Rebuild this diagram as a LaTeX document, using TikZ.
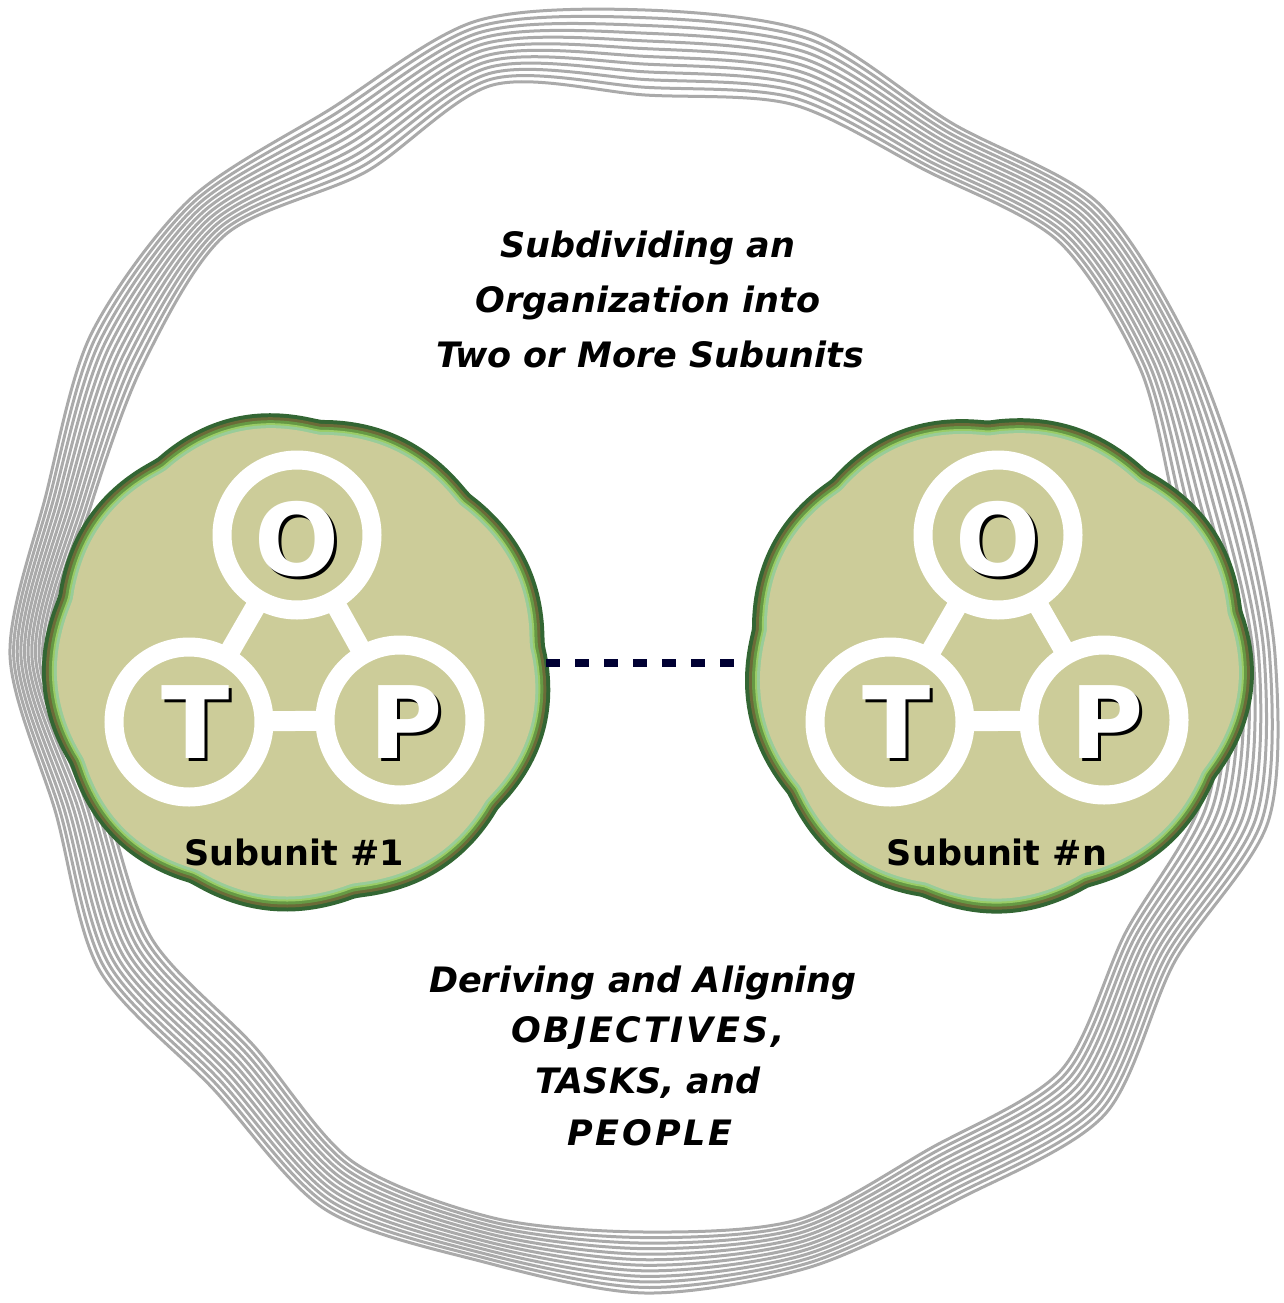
\documentclass[tikz,border=0pt]{standalone}
\usepackage{fontspec}
\newfontfamily\djv{DejaVu Sans}
\definecolor{khaki}{HTML}{CCCC99}
\definecolor{bzA}{HTML}{336633}
\definecolor{bzB}{HTML}{6B6B38}
\definecolor{bzC}{HTML}{669944}
\definecolor{bzL}{HTML}{99CC66}
\definecolor{bzD}{HTML}{99CC99}
\definecolor{ropegray}{HTML}{AAAAAA}
\definecolor{navy}{HTML}{000033}
\tikzset{
  rope/.style={draw=ropegray, line width=3pt},
  ring/.style={circle, minimum size=150pt, inner sep=0pt, draw=white, line width=19pt, fill=khaki},
  bar/.style={draw=white, line width=20pt},
  bigletter/.style={font=\djv\bfseries\fontsize{100}{100}\selectfont, inner sep=0pt, anchor=base},
  sublabel/.style={font=\djv\bfseries\fontsize{35}{40}\selectfont, inner sep=0pt, anchor=base},
  caption/.style={font=\djv\bfseries\itshape\fontsize{35}{40}\selectfont, inner sep=0pt, anchor=base},
  dashline/.style={draw=navy, line width=8pt, dash pattern=on 14pt off 15pt},
  blobnode/.style={circle, minimum size=500pt, inner sep=0pt}
}
\newcommand\drawsubunit[4]{% name, cx, cy, phase
  \foreach \dd/\cc in {0/bzA,4/bzB,7/bzC,10/bzL,12/bzD,15/khaki}{
    \fill[\cc] plot[smooth cycle, domain=0:358, samples=180, variable=\t]
      ({#2+(246-\dd+7*abs(sin(4.5*\t+#4))+3*sin(2*\t+40+#4)+2*sin(3*\t+2*#4))*cos(\t)},
       {#3+(246-\dd+7*abs(sin(4.5*\t+#4))+3*sin(2*\t+40+#4)+2*sin(3*\t+2*#4))*sin(\t)});
  }
  \node[blobnode] (#1) at (#2,#3) {};
}
\newcommand\shadowletter[4]{% name, x, y, letter
  \node[bigletter, text=black] (#1sh) at (#2+3,#3+3) {#4};
  \node[bigletter, text=white] (#1) at (#2,#3) {#4};
}
\begin{document}
\begin{tikzpicture}[x=1pt,y=-1pt]
\useasboundingbox (0,0) rectangle (1284,1303);
% outer rope ring
\def\rout{{630,645,612,650,628,634,638,628,640,612,630,610,635,620,640,644,630,656,645,644,614,640,627,620}}
\def\rin{{570,575,555,588,570,585,577,583,585,553,569,560,595,574,580,594,558,590,560,570,560,585,572,550}}
\foreach \k in {0,...,11}{
  \draw[rope] plot[smooth cycle, samples at={0,...,23}, variable=\i]
    ({645+(\rin[int(\i)]+\k/11*(\rout[int(\i)]-\rin[int(\i)]))*cos(15*\i)},
     {655+(\rin[int(\i)]+\k/11*(\rout[int(\i)]-\rin[int(\i)]))*sin(15*\i)});
}
% subunits
\drawsubunit{s1}{296}{663}{20}
\drawsubunit{s2}{997}{663}{55}
% subunit 1 internals
\coordinate (cO1) at (297,535);
\coordinate (cT1) at (189,722);
\coordinate (cP1) at (400,720);
\draw[bar] (cO1) -- (cT1) -- (cP1) -- cycle;
\node[ring] (O1) at (cO1) {};
\node[ring] (T1) at (cT1) {};
\node[ring] (P1) at (cP1) {};
\shadowletter{LO1}{297}{575}{O}
\shadowletter{LT1}{196}{758}{T}
\shadowletter{LP1}{406}{758}{P}
\node[sublabel] (lab1) at (294,865) {Subunit \#1};
% subunit n internals
\coordinate (cO2) at (998,535);
\coordinate (cT2) at (890,722);
\coordinate (cP2) at (1104,720);
\draw[bar] (cO2) -- (cT2) -- (cP2) -- cycle;
\node[ring] (O2) at (cO2) {};
\node[ring] (T2) at (cT2) {};
\node[ring] (P2) at (cP2) {};
\shadowletter{LO2}{998}{575}{O}
\shadowletter{LT2}{897}{758}{T}
\shadowletter{LP2}{1107}{758}{P}
\node[sublabel] (lab2) at (997,865) {Subunit \#n};
% connector
\draw[dashline] (s1.east) -- (s2.west);
% captions
\node[caption] (t1) at (648,257) {Subdividing an};
\node[caption] (t2) at (648,312) {Organization into};
\node[caption] (t3) at (650,367) {Two or More Subunits};
\node[caption] (b1) at (643,992) {Deriving and Aligning};
\node[caption] (b2) at (648,1042) {\addfontfeature{LetterSpace=8}OBJECTIVES,};
\node[caption] (b3) at (648,1093) {TASKS, and};
\node[caption] (b4) at (650,1145) {\addfontfeature{LetterSpace=8}PEOPLE};
\end{tikzpicture}
\end{document}
